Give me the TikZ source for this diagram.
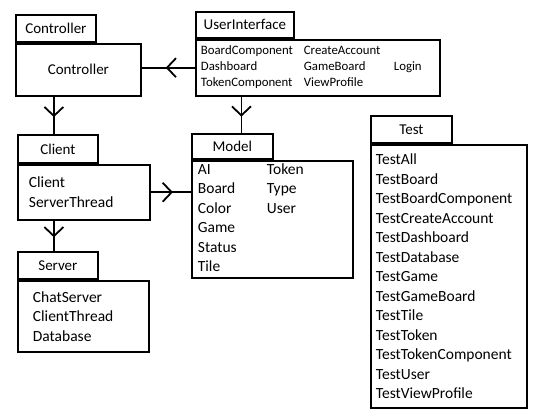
\documentclass[tikz,border=0pt]{standalone}
\usepackage{fontspec}
\setmainfont{Carlito}
\usetikzlibrary{arrows.meta,decorations.markings}

\begin{document}
\begin{tikzpicture}[x=1pt, y=-1pt, line width=1.8pt, font=\fontsize{15.5}{19.5}\selectfont,
    tab/.style={draw, anchor=north west, inner sep=0pt, font=\fontsize{15}{18}\selectfont},
    pkg/.style={draw, anchor=north west, inner ysep=0pt, align=left},
    dep/.style={postaction={decorate}, decoration={markings,
        mark=at position 0.55 with {\arrow{Straight Barb[length=9pt,width=19pt]}}}}]
  \useasboundingbox (0,0) rectangle (541,415);
  % packages
  \node[tab, minimum width=80pt, minimum height=27pt] (ctrltab) at (15,14) {Controller};
  \node[pkg, align=center, font=\fontsize{15}{18}\selectfont, minimum width=125pt, minimum height=52pt] (ctrl) at (ctrltab.south west) {Controller};
  \node[tab, minimum width=98pt, minimum height=26pt] (uitab) at (195,11) {UserInterface};
  \node[pkg, font=\fontsize{12.8}{16}\selectfont, inner xsep=5pt, text width=234pt, minimum height=56pt] (ui) at (uitab.south west)
    {\begin{tabular}{@{}p{103pt}@{}p{90pt}@{}l@{}}
      BoardComponent & CreateAccount & \\
      Dashboard & GameBoard & Login \\
      TokenComponent & ViewProfile &
    \end{tabular}};
  \node[tab, minimum width=80pt, minimum height=28pt] (clienttab) at (17,134) {Client};
  \node[pkg, inner xsep=11pt, text width=110pt, minimum height=55pt] (client) at (clienttab.south west) {Client\\ ServerThread};
  \node[tab, minimum width=80pt, minimum height=27pt] (servertab) at (17,251) {Server};
  \node[pkg, inner xsep=15pt, text width=101pt, minimum height=71pt] (server) at (servertab.south west) {ChatServer\\ ClientThread\\ Database};
  \node[tab, minimum width=81pt, minimum height=25pt] (modeltab) at (191,133) {Model};
  \node[pkg, inner xsep=6pt, text width=149pt, minimum height=117pt] (model) at (modeltab.south west)
    {\begin{tabular}{@{}p{69pt}@{}l@{}}
      AI & Token \\ Board & Type \\ Color & User \\ Game & \\ Status & \\ Tile &
    \end{tabular}};
  \node[tab, minimum width=81pt, minimum height=27pt] (testtab) at (370,115) {Test};
  \node[pkg, inner xsep=5pt, text width=146pt, minimum height=263pt] (test) at (testtab.south west)
    {TestAll\\ TestBoard\\ TestBoardComponent\\ TestCreateAccount\\ TestDashboard\\ TestDatabase\\ TestGame\\
     TestGameBoard\\ TestTile\\ TestToken\\ TestTokenComponent\\ TestUser\\ TestViewProfile};
  % dependencies
  \draw[dep] (ui.west) -- (ui.west -| ctrl.east);
  \draw[dep] ([xshift=-4pt]clienttab.north |- ctrl.south) -- ([xshift=-4pt]clienttab.north);
  \draw[dep] ([xshift=-4pt]servertab.north |- client.south) -- ([xshift=-4pt]servertab.north);
  \draw[dep] ([xshift=9pt]modeltab.north |- ui.south) -- ([xshift=9pt]modeltab.north);
  \draw[dep] (client.east) -- (client.east -| model.west);
\end{tikzpicture}
\end{document}
